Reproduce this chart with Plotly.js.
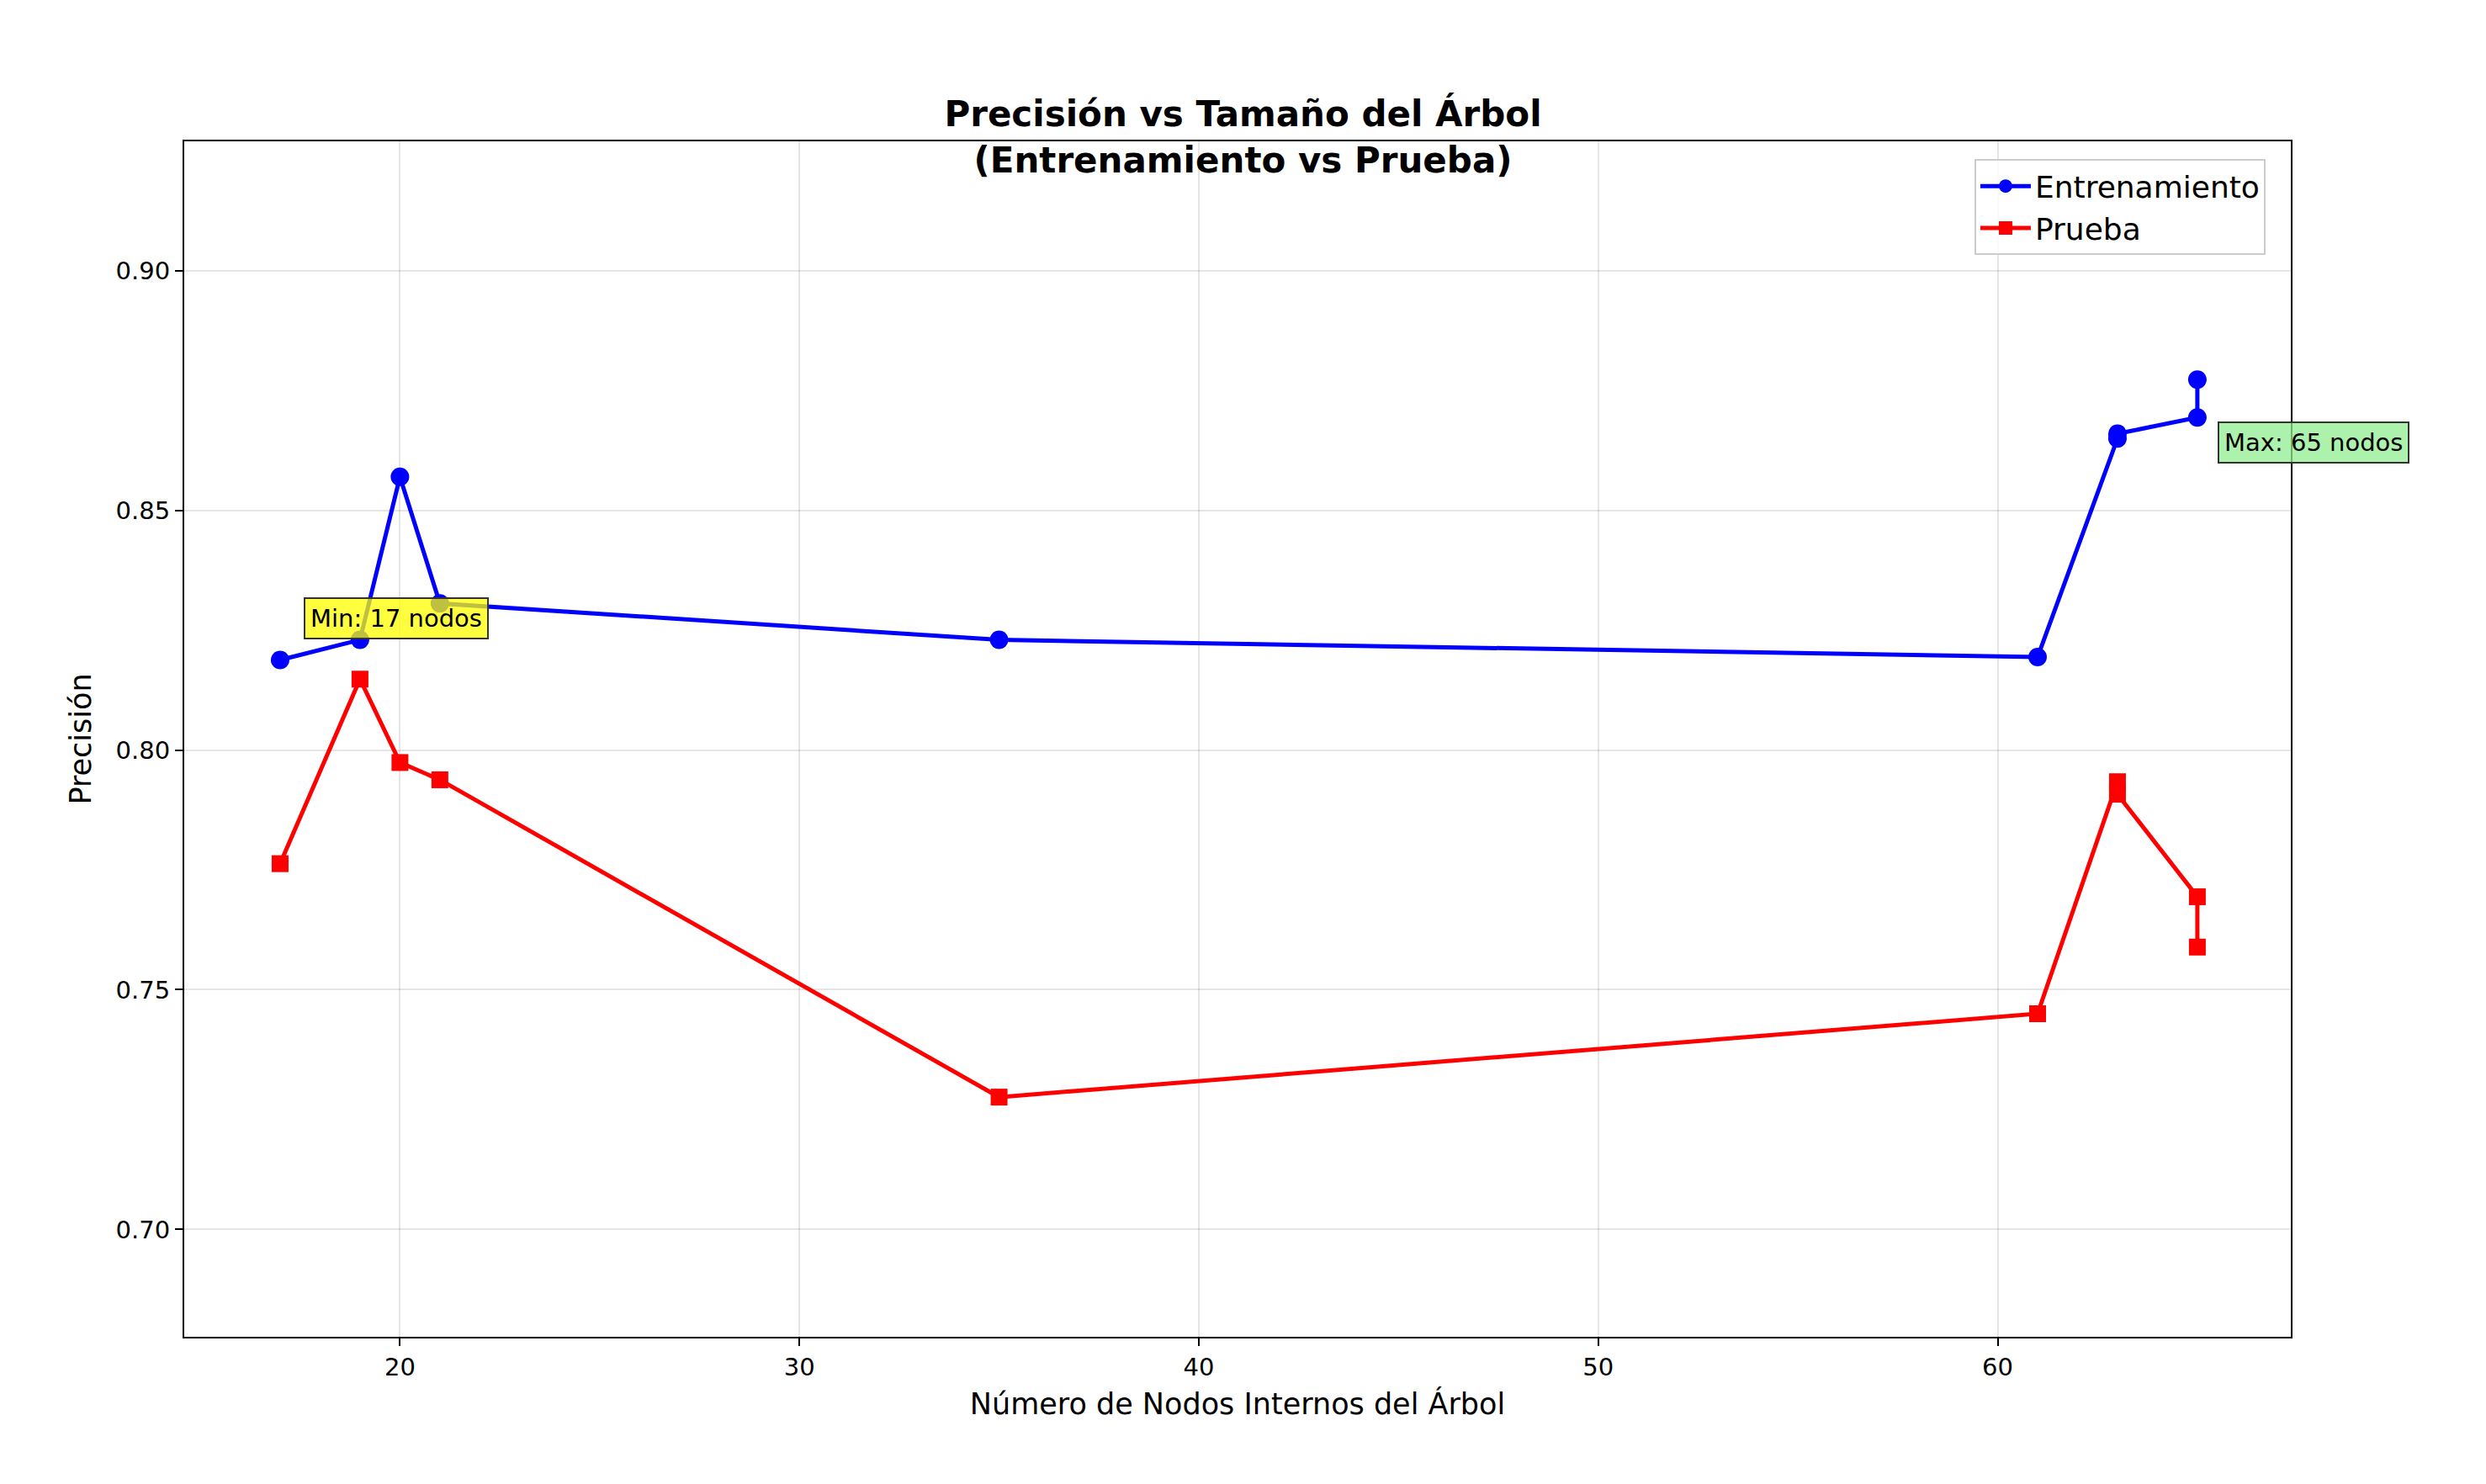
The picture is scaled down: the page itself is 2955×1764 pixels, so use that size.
<!DOCTYPE html>
<html>
<head>
<meta charset="utf-8">
<script src="https://cdn.plot.ly/plotly-3.0.1.min.js"></script>
<style>html,body{margin:0;padding:0;background:#fff}#chart{width:2955px;height:1764px}</style>
</head>
<body>
<div id="chart"></div>
<script>
const nodos = [17, 19, 20, 21, 35, 61, 63, 63, 65, 65];
const entrenamiento = [0.8188, 0.8230, 0.8570, 0.8306, 0.8230, 0.8194, 0.8650, 0.8660, 0.8694, 0.8773];
const prueba = [0.7763, 0.8148, 0.7974, 0.7938, 0.7276, 0.7450, 0.7934, 0.7908, 0.7694, 0.7589];
const xTicks = [20, 30, 40, 50, 60];
const yTicks = [0.70, 0.75, 0.80, 0.85, 0.90];

const font = "DejaVu Sans, sans-serif";
const axisBase = {
  showline: true, mirror: true, linecolor: "#000", linewidth: 2,
  ticks: "outside", ticklen: 9, tickwidth: 2, tickcolor: "#000",
  gridcolor: "rgba(0,0,0,0.1)", gridwidth: 2, zeroline: false,
  tickfont: { size: 29, color: "#000", family: font },
};

const data = [
  { type: "scatter", mode: "lines+markers", name: "Entrenamiento", x: nodos, y: entrenamiento,
    line: { color: "#0000ff", width: 5 }, marker: { color: "#0000ff", size: 22, symbol: "circle" } },
  { type: "scatter", mode: "lines+markers", name: "Prueba", x: nodos, y: prueba,
    line: { color: "#ff0000", width: 5 }, marker: { color: "#ff0000", size: 20, symbol: "square" } },
];

const layout = {
  width: 2955, height: 1764,
  paper_bgcolor: "#fff", plot_bgcolor: "#fff",
  font: { family: font, color: "#000" },
  margin: { l: 219, r: 232, t: 168, b: 175 },
  title: { text: "<b>Precisión vs Tamaño del Árbol<br>(Entrenamiento vs Prueba)</b>",
    font: { size: 42, family: font }, x: 0.5, xanchor: "center",
    yref: "paper", y: 1, yanchor: "bottom", pad: { b: 18 } },
  xaxis: { ...axisBase, range: [14.6, 67.34], tickvals: xTicks,
    title: { text: "Número de Nodos Internos del Árbol", font: { size: 35, family: font }, standoff: 16 } },
  yaxis: { ...axisBase, range: [0.6776, 0.927], tickvals: yTicks, ticktext: yTicks.map(v => v.toFixed(2)),
    title: { text: "Precisión", font: { size: 35, family: font }, standoff: 18 } },
  legend: { x: 0.988, y: 0.985, xanchor: "right", yanchor: "top", bgcolor: "rgba(255,255,255,0.8)",
    bordercolor: "#ccc", borderwidth: 2, font: { size: 36, family: font }, itemwidth: 60 },
  annotations: [
    { x: 17.6, y: 0.8275, xref: "x", yref: "y", xanchor: "left", yanchor: "middle", showarrow: false,
      text: "Min: 17 nodos", font: { size: 29, family: font }, bgcolor: "rgba(255,255,0,0.75)",
      bordercolor: "#333", borderwidth: 2, borderpad: 6 },
    { x: 65.5, y: 0.8642, xref: "x", yref: "y", xanchor: "left", yanchor: "middle", showarrow: false,
      text: "Max: 65 nodos", font: { size: 29, family: font }, bgcolor: "rgba(144,238,144,0.75)",
      bordercolor: "#333", borderwidth: 2, borderpad: 6 },
  ],
};

Plotly.newPlot("chart", data, layout, { displayModeBar: false, staticPlot: true });
</script>
</body>
</html>
